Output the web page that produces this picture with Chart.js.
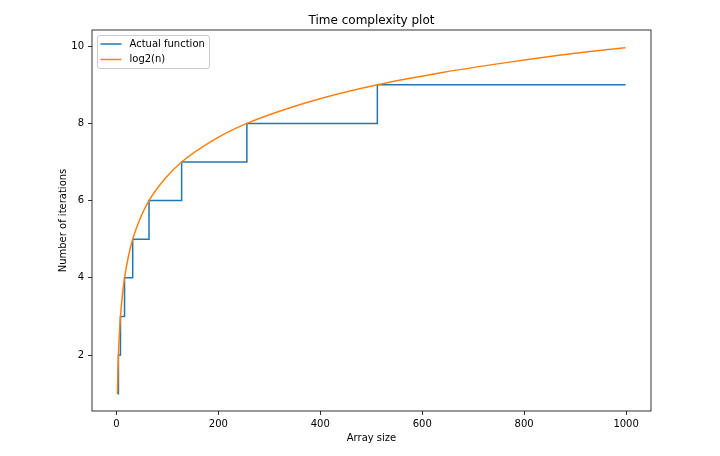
<!DOCTYPE html>
<html>
<head>
<meta charset="utf-8">
<script src="https://cdn.jsdelivr.net/npm/chart.js@4/dist/chart.umd.min.js"></script>
<style>
  html, body { margin: 0; padding: 0; background: #fff; }
  canvas { display: block; }
</style>
</head>
<body>
<canvas id="myChart" width="720" height="456"></canvas>
<script>
// Actual function: step values
const stepSizes = [2, 4, 8, 16, 32, 64, 128, 256, 512, 999];
const stepIters = [1, 2, 3, 4, 5, 6, 7, 8, 9, 9];

// log2(n) curve
const logSizes = [2, 3, 4, 6, 8, 12, 16, 24, 32, 48, 64, 96, 128, 192, 256, 384, 512, 640, 768, 896, 999];
const logIters = [1, 1.58, 2, 2.58, 3, 3.58, 4, 4.58, 5, 5.58, 6, 6.58, 7, 7.58, 8, 8.58, 9, 9.32, 9.58, 9.81, 9.96];

const xTicks = [0, 200, 400, 600, 800, 1000];
const yTicks = [2, 4, 6, 8, 10];

const seriesNames = ["Actual function", "log2(n)"];
const seriesColors = ["#1f77b4", "#ff7f0e"];

const FONT = "'DejaVu Sans', sans-serif";

const toPoints = (xs, ys) => xs.map((x, i) => ({ x: x, y: ys[i] }));

// title, axis titles, frame and legend, matplotlib style
const decorations = {
    id: "decorations",
    afterDraw(chart) {
        const ctx = chart.ctx;
        const a = chart.chartArea;
        ctx.save();

        // frame
        ctx.strokeStyle = "#000";
        ctx.lineWidth = 0.8;
        ctx.strokeRect(a.left, a.top, a.right - a.left, a.bottom - a.top);

        ctx.fillStyle = "#000";
        ctx.textAlign = "center";
        ctx.textBaseline = "alphabetic";
        ctx.font = "12px " + FONT;
        ctx.fillText("Time complexity plot", (a.left + a.right) / 2, 24);

        ctx.font = "10px " + FONT;
        ctx.fillText("Array size", (a.left + a.right) / 2, 441);

        ctx.save();
        ctx.translate(66, (a.top + a.bottom) / 2);
        ctx.rotate(-Math.PI / 2);
        ctx.fillText("Number of iterations", 0, 0);
        ctx.restore();

        // legend box
        const lx = a.left + 5.5, ly = a.top + 5.5, lw = 112, lh = 33, r = 2.5;
        ctx.beginPath();
        ctx.moveTo(lx + r, ly);
        ctx.arcTo(lx + lw, ly, lx + lw, ly + lh, r);
        ctx.arcTo(lx + lw, ly + lh, lx, ly + lh, r);
        ctx.arcTo(lx, ly + lh, lx, ly, r);
        ctx.arcTo(lx, ly, lx + lw, ly, r);
        ctx.closePath();
        ctx.fillStyle = "rgba(255,255,255,0.8)";
        ctx.fill();
        ctx.strokeStyle = "#cccccc";
        ctx.lineWidth = 1;
        ctx.stroke();

        ctx.textAlign = "left";
        ctx.textBaseline = "middle";
        seriesNames.forEach((name, i) => {
            const y = ly + 8.5 + i * 15.5;
            ctx.strokeStyle = seriesColors[i];
            ctx.lineWidth = 1.5;
            ctx.beginPath();
            ctx.moveTo(lx + 3, y);
            ctx.lineTo(lx + 24, y);
            ctx.stroke();
            ctx.fillStyle = "#000";
            ctx.fillText(name, lx + 32, y);
        });

        ctx.restore();
    }
};

new Chart(document.getElementById("myChart").getContext("2d"), {
    type: "line",
    data: {
        datasets: [
            {
                label: seriesNames[0],
                data: toPoints(stepSizes, stepIters),
                borderColor: seriesColors[0],
                borderWidth: 1.5,
                stepped: true,
                pointRadius: 0,
                fill: false,
                order: 1
            },
            {
                label: seriesNames[1],
                data: toPoints(logSizes, logIters),
                borderColor: seriesColors[1],
                borderWidth: 1.5,
                cubicInterpolationMode: "monotone",
                pointRadius: 0,
                fill: false,
                order: 0
            }
        ]
    },
    options: {
        responsive: false,
        animation: false,
        devicePixelRatio: 1,
        layout: { padding: { top: 30, right: 69, left: 0, bottom: 0 } },
        plugins: {
            legend: { display: false },
            title: { display: false },
            tooltip: { enabled: false }
        },
        scales: {
            x: {
                type: "linear",
                min: -47.85,
                max: 1048.85,
                afterBuildTicks: (scale) => { scale.ticks = xTicks.map(v => ({ value: v })); },
                afterFit: (scale) => { scale.height = 45; },
                border: { display: false },
                grid: { drawOnChartArea: false, drawTicks: true, tickLength: 4, tickWidth: 0.8, tickColor: "#000" },
                ticks: { color: "#000", font: { family: FONT, size: 10 }, padding: 3, maxRotation: 0,
                         callback: (v) => String(v) }
            },
            y: {
                type: "linear",
                min: 0.5515,
                max: 10.4185,
                afterBuildTicks: (scale) => { scale.ticks = yTicks.map(v => ({ value: v })); },
                afterFit: (scale) => { scale.width = 92; },
                border: { display: false },
                grid: { drawOnChartArea: false, drawTicks: true, tickLength: 4, tickWidth: 0.8, tickColor: "#000" },
                ticks: { color: "#000", font: { family: FONT, size: 10 }, padding: 4,
                         callback: (v) => String(v) }
            }
        }
    },
    plugins: [decorations]
});
</script>
</body>
</html>
